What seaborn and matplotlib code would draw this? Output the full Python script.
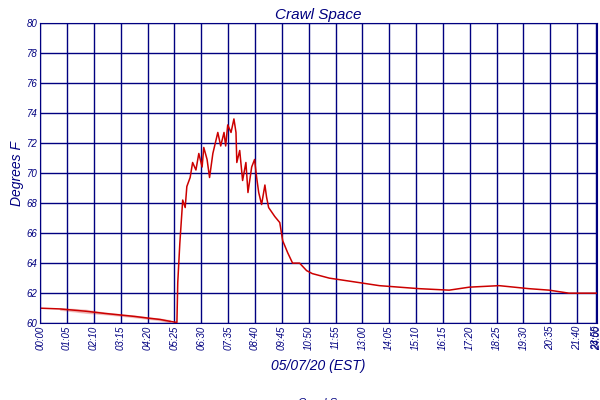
import numpy as np
import pandas as pd
import matplotlib
matplotlib.use('Agg')
import matplotlib.pyplot as plt
import seaborn as sns

# position along the time axis (minutes of the tick scale) and temperature (F)
minutes = [0, 48, 48, 109, 109, 157, 157, 193, 193, 229, 229, 258, 258, 290, 290, 314, 314, 331,
           333, 338, 345, 351, 355, 363, 369, 377, 384, 392, 396, 404, 410, 418, 430, 437, 445,
           449, 454, 462, 469, 474, 476, 483, 490, 498, 503, 512, 519, 524, 529, 536, 544, 548,
           553, 568, 580, 587, 599, 611, 628, 645, 659, 700, 773, 821, 917, 990, 1039, 1111,
           1183, 1232, 1280, 1348]
temps = [61.0, 61.0, 60.9, 60.9, 60.7, 60.7, 60.6, 60.6, 60.5, 60.5, 60.4, 60.4, 60.3, 60.3,
         60.2, 60.2, 60.05, 60.05,
         62.7, 65.3, 68.2, 67.7, 69.1, 69.7, 70.7, 70.2, 71.3, 70.4, 71.7, 70.9, 69.7, 71.3,
         72.7, 71.8, 72.7, 71.8, 73.2, 72.7, 73.6, 72.7, 70.7, 71.5, 69.5, 70.7, 68.7, 70.4,
         70.9, 69.7, 68.7, 67.9, 69.2, 68.4, 67.7, 67.1, 66.7, 65.5, 64.7, 64.0, 64.0, 63.5,
         63.3, 63.0, 62.7, 62.5, 62.3, 62.2, 62.4, 62.5, 62.3, 62.2, 62.0, 62.0]

tick_pos = list(range(0, 1311, 65)) + [1345, 1348]
tick_labels = [f'{m // 60:02d}:{m % 60:02d}' for m in range(0, 1311, 65)] + ['23:55', '24:00']

df = pd.DataFrame({'minute': minutes, 'temp': temps})
navy = '#000080'

sns.set_style('white')
fig, ax = plt.subplots(figsize=(6, 4), dpi=100)
fig.subplots_adjust(left=0.067, right=0.995, top=0.943, bottom=0.192)
sns.lineplot(data=df, x='minute', y='temp', color='#cc0000', linewidth=1.1,
             label='Crawl Space', ax=ax, sort=False)

font = dict(family='Liberation Sans', style='italic', color=navy)
ax.set_xlim(0, 1348)
ax.set_ylim(60, 80)
ax.set_xticks(tick_pos)
ax.set_xticklabels(tick_labels, rotation=90, fontsize=7, **font)
ax.set_yticks(range(60, 81, 2))
ax.set_yticklabels(range(60, 81, 2), fontsize=7, **font)
ax.tick_params(length=0, pad=2)
ax.grid(True, color=navy, linewidth=1)
for s in ax.spines.values():
    s.set_color(navy)
ax.set_title('Crawl Space', fontsize=11, pad=3, **font)
ax.set_ylabel('Degrees F', fontsize=10, labelpad=2, **font)
ax.set_xlabel('05/07/20 (EST)', fontsize=10, labelpad=6, **font)
leg = ax.legend(loc='upper center', bbox_to_anchor=(0.5, -0.215), frameon=False,
                handlelength=1.2, prop=dict(family='Liberation Sans', style='italic', size=8))
for t in leg.get_texts():
    t.set_color(navy)
fig.savefig('out.png')
